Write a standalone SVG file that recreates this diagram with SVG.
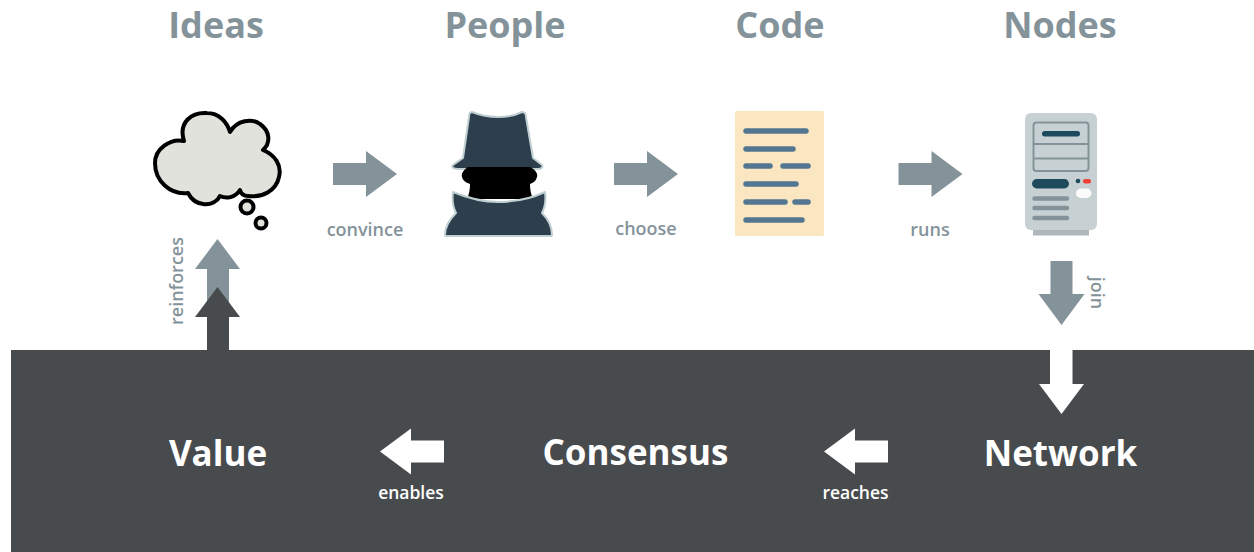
<svg xmlns="http://www.w3.org/2000/svg" width="1254" height="552" viewBox="0 0 1254 552">
<style>
text{font-family:"Open Sans","Noto Sans",sans-serif}
.h{font-size:36px;font-weight:700;fill:#84939a;text-anchor:middle}
.w{font-size:35px;font-weight:700;fill:#fff;text-anchor:middle}
.l{font-size:18px;font-weight:600;fill:#84939a;text-anchor:middle}
.lw{font-size:17.500px;font-weight:600;fill:#fff;text-anchor:middle}
.g{fill:#84939a}.wf{fill:#fff}.d{fill:#484b4e}
.cl{stroke:#547791;stroke-width:5.500;stroke-linecap:round;fill:none}
.coat{fill:#2d3e4d;stroke:#c0cfd2;stroke-width:2;stroke-linejoin:round}
</style>
<defs>
<path id="ar" d="M-32-11H1V-23L32 0 1 23V11H-32Z"/>
</defs>
<rect id="band" x="11" y="350" width="1243" height="202" class="d"/>
<g id="connectors">
<use href="#ar" class="g" transform="translate(365,174)"/>
<use href="#ar" class="g" transform="translate(646,174)"/>
<use href="#ar" class="g" transform="translate(930.500,174)"/>
<use href="#ar" class="g" transform="translate(1061.500,293) rotate(90)"/>
<path class="wf" d="M1050 350H1072.500V384H1084L1061.500 414 1039 384H1050Z"/>
<use href="#ar" class="wf" transform="translate(856,451.500) rotate(180)"/>
<use href="#ar" class="wf" transform="translate(412,451.500) rotate(180)"/>
<path class="g" d="M207 328V269H195L217.500 239 240 269H229V328Z"/>
<path class="d" d="M207 350V317H195L217.500 287 240 317H229V350Z"/>
</g>
<g id="labels">
<text class="l" x="365" y="236">convince</text>
<text class="l" x="646" y="235">choose</text>
<text class="l" x="930" y="236">runs</text>
<text class="l" transform="translate(1091,293) rotate(90)">join</text>
<text class="l" transform="translate(183,281) rotate(-90)">reinforces</text>
<text class="lw" x="411" y="499">enables</text>
<text class="lw" x="855.500" y="499">reaches</text>
</g>
<g id="ideas">
<text class="h" x="216" y="38">Ideas</text>
<path d="M184 141C178 122 192 112 207 113C219 113 227 122 230 132C237 120 252 118 260 124C270 131 271 143 263 150C275 155 282 165 279 177C276 191 262 198 248 196C244 196 241 194 240 190C235 198 226 199 220 196C214 208 195 207 188 193C170 195 155 181 155 163C155 149 170 138 184 141Z" fill="#e2e2dd" stroke="#000" stroke-width="4" stroke-linejoin="round"/>
<circle cx="247" cy="207" r="6.500" fill="#e2e2dd" stroke="#000" stroke-width="4"/>
<circle cx="261" cy="223" r="5.500" fill="#e2e2dd" stroke="#000" stroke-width="4"/>
</g>
<g id="people">
<text class="h" x="505" y="38">People</text>
<path class="coat" d="M472 112C482 116 490 117 498 117C506 117 514 116 522 112C525 112 526 114 526 117L533 158L542 165C543 167 542 169 538 169H458C453 169 451 167 453 165L463 158L469 117C469 114 470 112 472 112Z"/>
<path d="M468 167H530C536 170 538 174 537 177C536 181 533 183 530 184C530 190 531 194 533 199H467C469 194 470 190 470 184C467 183 463 181 462 177C461 174 463 170 468 167Z" fill="#000"/>
<path class="coat" d="M453 192C470 199 485 202 498 202C512 202 530 199 545 192C546 199 545 207 542 213C548 219 552 227 552 235C552 236 551 236 550 236H447C446 236 445 236 445 235C445 227 450 219 456 213C453 207 452 199 453 192Z"/>
</g>
<g id="code">
<text class="h" x="780" y="38">Code</text>
<rect x="735" y="111" width="89" height="125" rx="2" fill="#fae7c1"/>
<path class="cl" d="M746 131H806M746 149H793M746 166H770M783 166H808M746 184H796M746 202H785M795 202H808M746 220H802"/>
</g>
<g id="nodes">
<text class="h" x="1060" y="38">Nodes</text>
<rect x="1033" y="226" width="56" height="9.500" fill="#aeb8bb"/>
<rect x="1025" y="113" width="72" height="117" rx="6" fill="#c7d0d3"/>
<rect x="1033.500" y="122.500" width="55" height="48.500" rx="3" fill="none" stroke="#84939a" stroke-width="2"/>
<path d="M1034 144H1088M1034 158.500H1088" stroke="#84939a" stroke-width="2"/>
<rect x="1042" y="131" width="38" height="5.500" rx="2.700" fill="#1d4a5c"/>
<rect x="1032" y="179" width="37" height="9.500" rx="4.700" fill="#1d4a5c"/>
<circle cx="1078" cy="181" r="2.300" fill="#1d4a5c"/>
<rect x="1083" y="179" width="8" height="4.500" rx="2.200" fill="#ef4136"/>
<rect x="1076" y="188.500" width="15.500" height="9.500" rx="4.700" fill="#fafafa"/>
<path d="M1034.500 198.500H1067M1034.500 208H1067M1034.500 218H1067" stroke="#84939a" stroke-width="4.500" stroke-linecap="round"/>
</g>
<g id="network"><text class="w" x="1060.500" y="466">Network</text></g>
<g id="consensus"><text class="w" x="635.500" y="465">Consensus</text></g>
<g id="value"><text class="w" x="218" y="466">Value</text></g>
</svg>
